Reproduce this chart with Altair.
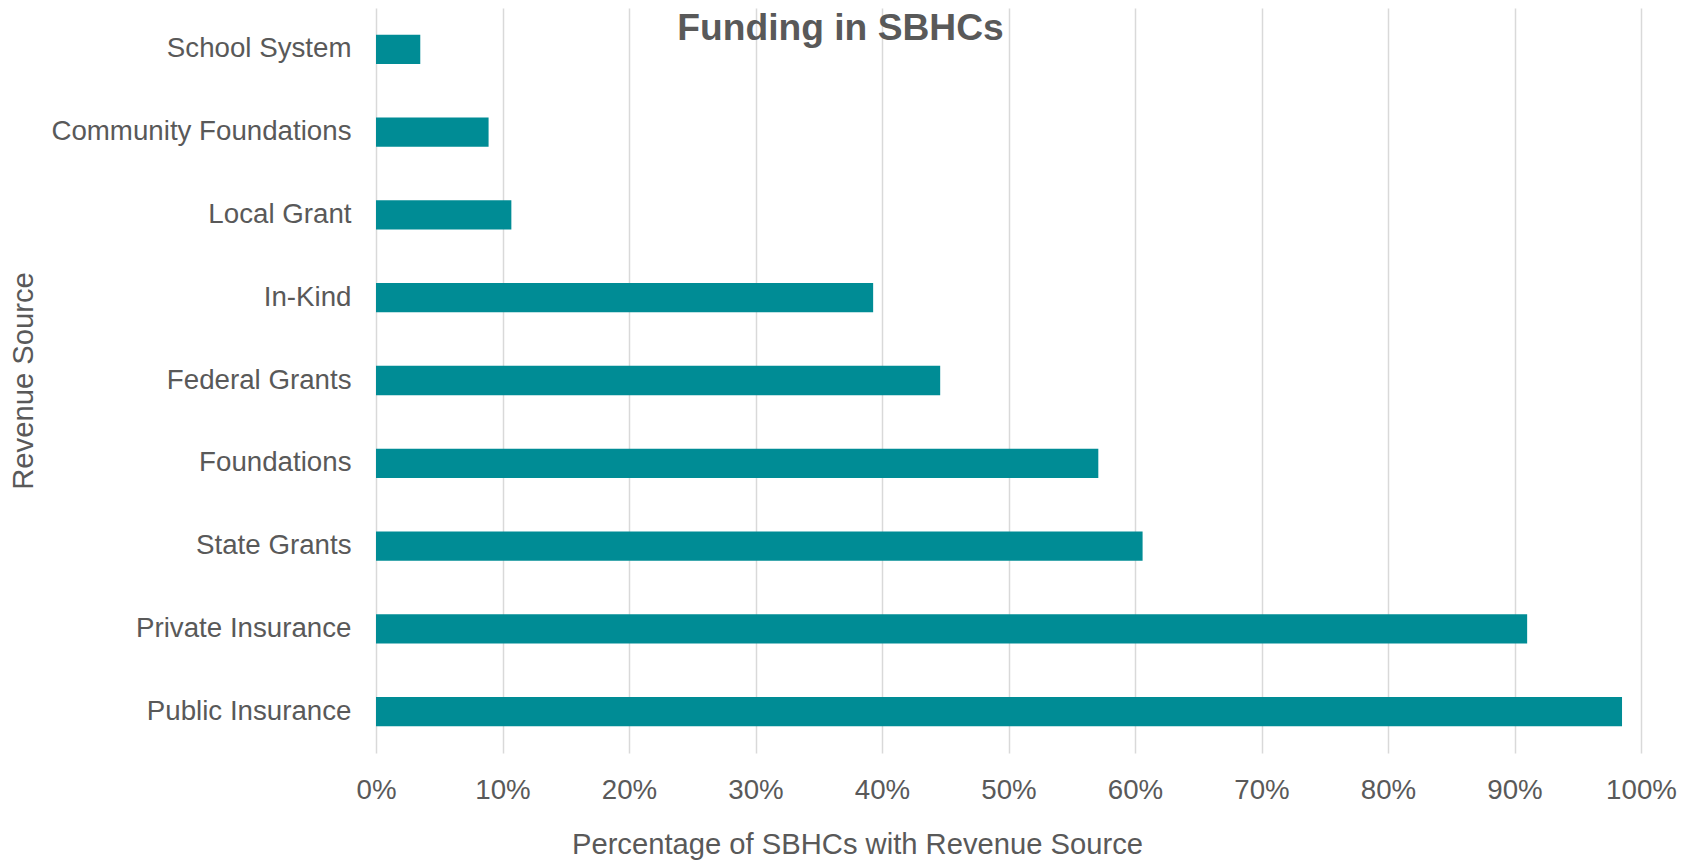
import altair as alt
import pandas as pd

sources = ["School System", "Community Foundations", "Local Grant", "In-Kind",
           "Federal Grants", "Foundations", "State Grants", "Private Insurance",
           "Public Insurance"]
shares = [0.035, 0.089, 0.107, 0.393, 0.446, 0.571, 0.606, 0.910, 0.985]

df = pd.DataFrame({"source": sources, "share": shares})

FONT = "Liberation Sans"
GRAY = "#595959"
W, H = 1265, 745

chart = alt.Chart(df).mark_bar(color="#008C95").encode(
    x=alt.X("share:Q",
            scale=alt.Scale(domain=[0, 1], nice=False, zero=True),
            axis=alt.Axis(title="Percentage of SBHCs with Revenue Source",
                          format=".0%", values=[i / 10 for i in range(11)],
                          grid=True, gridColor="#D9D9D9", gridWidth=1.5,
                          domain=False, ticks=False,
                          labelPadding=23, labelFontSize=27.7, labelColor=GRAY,
                          labelFont=FONT, labelFlush=False,
                          titleFontSize=29.2, titleFont=FONT, titleColor=GRAY,
                          titleFontWeight="normal",
                          titleX=481, titleY=91, titleAlign="center",
                          titleBaseline="middle")),
    y=alt.Y("source:N", sort=sources,
            scale=alt.Scale(paddingInner=0.646, paddingOuter=0.323),
            axis=alt.Axis(title="Revenue Source", domain=False, ticks=False,
                          grid=False,
                          labelPadding=25, labelFontSize=27.7, labelColor=GRAY,
                          labelFont=FONT, labelLimit=500,
                          titleFontSize=29.2, titleFont=FONT, titleColor=GRAY,
                          titleFontWeight="normal",
                          titleX=-353, titleY=H / 2, titleAngle=270,
                          titleAlign="center", titleBaseline="middle")),
).properties(
    width=W,
    height=H,
    title=alt.Title("Funding in SBHCs", font=FONT, fontSize=37.2,
                    fontWeight="bold", color=GRAY, anchor="middle",
                    dx=-168, offset=-40),
    padding={"left": 1, "top": 0, "right": 5, "bottom": 0},
).configure(background="white", view=alt.ViewConfig(strokeWidth=0))

chart.save("out.html", embed_options={"renderer": "svg", "actions": False})
